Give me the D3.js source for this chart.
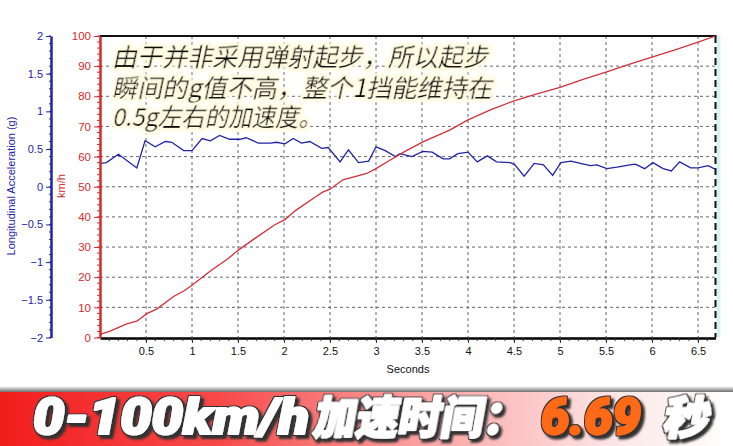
<!DOCTYPE html>
<html><head><meta charset="utf-8">
<script src="https://cdn.jsdelivr.net/npm/d3@7/dist/d3.min.js"></script>
<style>
html,body{margin:0;padding:0;background:#fff;}
svg{display:block;}
</style></head>
<body>
<svg id="c" width="733" height="446"></svg>
<script>
// ---- data ----
const speedTime = [0,0.11,0.29,0.4,0.51,0.62,0.8,0.91,1.0,1.21,1.39,1.5,1.68,1.9,2.01,2.12,2.34,2.42,2.5,2.64,2.9,3.0,3.15,3.33,3.51,3.8,4.0,4.25,4.5,4.75,5.0,5.25,5.5,5.75,6.0,6.25,6.5,6.69];
const speedKmh  = [1.0,2.1,4.5,5.4,7.9,9.5,13.6,15.4,17.3,22.3,26.1,28.9,32.8,37.4,39.1,42,46.6,48.2,49.2,52.3,54.4,56,58.8,62,64.9,68.8,72.2,75.6,78.5,80.8,83,85.6,88,90.6,93,95.4,98,100];
const accTime = [0,0.07,0.2,0.4,0.49,0.6,0.71,0.78,0.91,1.0,1.11,1.2,1.3,1.41,1.52,1.59,1.72,1.85,1.92,2.01,2.1,2.19,2.28,2.41,2.48,2.61,2.7,2.81,2.92,3.0,3.1,3.21,3.26,3.39,3.51,3.61,3.73,3.8,3.89,4.0,4.1,4.21,4.31,4.46,4.51,4.61,4.72,4.82,4.92,5.01,5.12,5.22,5.33,5.4,5.51,5.62,5.76,5.82,5.92,6.01,6.12,6.21,6.3,6.42,6.5,6.61,6.69];
const accG    = [0.31,0.32,0.43,0.25,0.61,0.53,0.60,0.59,0.48,0.48,0.64,0.61,0.68,0.63,0.63,0.65,0.58,0.58,0.59,0.57,0.64,0.58,0.60,0.51,0.52,0.33,0.49,0.32,0.34,0.53,0.48,0.40,0.44,0.40,0.47,0.46,0.37,0.37,0.44,0.46,0.33,0.41,0.33,0.32,0.29,0.14,0.31,0.29,0.15,0.32,0.34,0.31,0.28,0.29,0.24,0.26,0.29,0.30,0.24,0.32,0.24,0.21,0.33,0.25,0.25,0.28,0.23];
const secTicks = [0.5,1,1.5,2,2.5,3,3.5,4,4.5,5,5.5,6,6.5];
const kmhTicks = [0,10,20,30,40,50,60,70,80,90,100];
const accTicks = [-2,-1.5,-1,-0.5,0,0.5,1,1.5,2];
const noteLines = ["由于并非采用弹射起步，所以起步","瞬间的g值不高，整个1挡能维持在","0.5g左右的加速度。"];
const bannerParts = ["0-100km/h","加速时间：","6.69","秒"];

// ---- layout ----
const svg = d3.select("#c");
const L = 100, R = 715.5, T = 36, B = 337.5;
const x = d3.scaleLinear().domain([0, 6.69]).range([L, R]);
const yS = d3.scaleLinear().domain([0, 100]).range([B, T]);
const yA = d3.scaleLinear().domain([-2, 2]).range([B, T]);
const RED = "#d42a2a", BLUE = "#2323a8";
const fmt = d3.format("~g");
const AX = "Liberation Sans, Arial, sans-serif";

const defs = svg.append("defs");
const g1 = defs.append("linearGradient").attr("id","bg").attr("x1","0").attr("x2","1").attr("y1","0").attr("y2","0");
g1.append("stop").attr("offset","0").attr("stop-color","#f21d1d");
g1.append("stop").attr("offset","0.3").attr("stop-color","#f74a4a");
g1.append("stop").attr("offset","0.6").attr("stop-color","#fba9a9");
g1.append("stop").attr("offset","0.85").attr("stop-color","#fde8e8");
g1.append("stop").attr("offset","1").attr("stop-color","#ffffff");
const g2 = defs.append("linearGradient").attr("id","sh").attr("x1","0").attr("x2","0").attr("y1","0").attr("y2","1");
g2.append("stop").attr("offset","0").attr("stop-color","#ffffff");
g2.append("stop").attr("offset","1").attr("stop-color","#555");

// glow for annotation
const f1 = defs.append("filter").attr("id","glow").attr("x","-10%").attr("y","-40%").attr("width","120%").attr("height","180%");
f1.append("feMorphology").attr("in","SourceAlpha").attr("operator","dilate").attr("radius",3).attr("result","d");
f1.append("feFlood").attr("flood-color","#fffbe0").attr("result","fl");
f1.append("feComposite").attr("in","fl").attr("in2","d").attr("operator","in").attr("result","c");
f1.append("feGaussianBlur").attr("in","c").attr("stdDeviation",1.5).attr("result","b");
const m1 = f1.append("feMerge");
m1.append("feMergeNode").attr("in","b");
m1.append("feMergeNode").attr("in","SourceGraphic");

// outline + shadow for banner
const f2 = defs.append("filter").attr("id","ds").attr("x","-10%").attr("y","-30%").attr("width","120%").attr("height","160%");
f2.append("feMorphology").attr("in","SourceAlpha").attr("operator","dilate").attr("radius",1.2).attr("result","d");
f2.append("feFlood").attr("flood-color","#333").attr("result","fl");
f2.append("feComposite").attr("in","fl").attr("in2","d").attr("operator","in").attr("result","o");
f2.append("feOffset").attr("in","o").attr("dx",2.5).attr("dy",2.5).attr("result","s");
f2.append("feGaussianBlur").attr("in","s").attr("stdDeviation",0.8).attr("result","sb");
const m2 = f2.append("feMerge");
m2.append("feMergeNode").attr("in","sb");
m2.append("feMergeNode").attr("in","o");
m2.append("feMergeNode").attr("in","SourceGraphic");

// grid
svg.append("g").selectAll("line").data(kmhTicks.filter(d=>d>0&&d<100)).join("line")
  .attr("x1",L).attr("x2",R).attr("y1",d=>yS(d)).attr("y2",d=>yS(d))
  .attr("stroke","#666").attr("stroke-width",1).attr("stroke-dasharray","3,3");
svg.append("g").selectAll("line").data(secTicks).join("line")
  .attr("x1",d=>x(d)).attr("x2",d=>x(d)).attr("y1",T).attr("y2",B)
  .attr("stroke","#666").attr("stroke-width",1).attr("stroke-dasharray","3,3");

// right edge
svg.append("rect").attr("x",R+1).attr("y",T).attr("width",4).attr("height",B-T).attr("fill","#d6f3f3");
svg.append("line").attr("x1",R).attr("x2",R).attr("y1",T).attr("y2",B)
  .attr("stroke","#111").attr("stroke-width",2).attr("stroke-dasharray","7,4");
// top border
svg.append("line").attr("x1",L).attr("x2",R+1).attr("y1",T).attr("y2",T).attr("stroke","#111").attr("stroke-width",2);

// lines
svg.append("path").datum(accTime.map((t,i)=>[t,accG[i]]))
  .attr("d", d3.line().x(d=>x(d[0])).y(d=>yA(d[1])))
  .attr("fill","none").attr("stroke",BLUE).attr("stroke-width",1.3);
svg.append("path").datum(speedTime.map((t,i)=>[t,speedKmh[i]]))
  .attr("d", d3.line().x(d=>x(d[0])).y(d=>yS(d[1])))
  .attr("fill","none").attr("stroke","#d0303c").attr("stroke-width",1.3);

// x axis
const xa = svg.append("g").attr("transform",`translate(0,${B+0.5})`)
  .call(d3.axisBottom(x).tickValues(secTicks).tickFormat(fmt).tickSize(5).tickPadding(4).tickSizeOuter(0));
xa.select(".domain").attr("stroke","#000").attr("stroke-width",2.5);
xa.selectAll("text").attr("font-family",AX).attr("font-size",11).attr("fill","#111");
xa.selectAll(".tick line").attr("stroke","#333");
xa.append("g").selectAll("line").data(d3.range(1,67).map(i=>i/10)).join("line")
  .attr("x1",d=>x(d)).attr("x2",d=>x(d)).attr("y1",0).attr("y2",3).attr("stroke","#333");
svg.append("text").attr("x",408).attr("y",373).attr("text-anchor","middle")
  .attr("font-family",AX).attr("font-size",11).attr("fill","#111").text("Seconds");

// km/h axis
const sa = svg.append("g").attr("transform",`translate(${L},0)`)
  .call(d3.axisLeft(yS).tickValues(kmhTicks).tickFormat(fmt).tickSize(6).tickPadding(3).tickSizeOuter(0));
sa.select(".domain").attr("stroke",RED).attr("stroke-width",2.5);
sa.selectAll(".tick line").attr("stroke",RED);
sa.selectAll("text").attr("font-family",AX).attr("font-size",11.5).attr("fill",RED);
sa.append("g").selectAll("line").data(d3.range(0,101,2)).join("line")
  .attr("x1",-3).attr("x2",0).attr("y1",d=>yS(d)).attr("y2",d=>yS(d)).attr("stroke",RED);
svg.append("text").attr("transform",`translate(65,186) rotate(-90)`).attr("text-anchor","middle")
  .attr("font-family",AX).attr("font-size",11).attr("fill",RED).text("km/h");

// accel axis
const aa = svg.append("g").attr("transform",`translate(51,0)`)
  .call(d3.axisLeft(yA).tickValues(accTicks).tickFormat(fmt).tickSize(5).tickPadding(3).tickSizeOuter(0));
aa.select(".domain").attr("stroke",BLUE).attr("stroke-width",2.5);
aa.selectAll(".tick line").attr("stroke",BLUE);
aa.selectAll("text").attr("font-family",AX).attr("font-size",11).attr("fill",BLUE);
aa.append("g").selectAll("line").data(d3.range(-20,21).map(i=>i/10)).join("line")
  .attr("x1",-2).attr("x2",0).attr("y1",d=>yA(d)).attr("y2",d=>yA(d)).attr("stroke",BLUE);
svg.append("text").attr("transform",`translate(15,186) rotate(-90)`).attr("text-anchor","middle")
  .attr("font-family",AX).attr("font-size",11).attr("fill",BLUE).text("Longitudinal Acceleration (g)");

// annotation (slanted, with cream glow)
const noteX = 112, noteY = [66, 97, 126], noteW = [376, 380, 210];
noteLines.forEach((s,i)=>{
  svg.append("text").attr("transform",`translate(${noteX},${noteY[i]}) skewX(-12)`)
    .attr("x",0).attr("y",0).attr("textLength",noteW[i]).attr("lengthAdjust","spacingAndGlyphs")
    .attr("font-family","Noto Sans CJK SC, sans-serif").attr("font-size",25)
    .attr("fill","#111").attr("filter","url(#glow)").text(s);
});

// banner
svg.append("rect").attr("x",0).attr("y",386).attr("width",733).attr("height",7).attr("fill","url(#sh)");
svg.append("rect").attr("x",0).attr("y",392).attr("width",733).attr("height",54).attr("fill","url(#bg)");
const bx = [33, 312, 541, 662], bw = [276, 212, 100, 46];
const bfam = ["Roboto, Liberation Sans, sans-serif","Noto Sans CJK SC, sans-serif","Roboto, Liberation Sans, sans-serif","Noto Sans CJK SC, sans-serif"];
const bfill = ["#ffffff","#ffffff","#ff6a14","#ffffff"];
bannerParts.forEach((s,i)=>{
  const cjk = i%2===1;
  svg.append("text").attr("transform",`translate(${bx[i]},434) skewX(${cjk?-10:0}) scale(1,1.08)`)
    .attr("x",0).attr("y",0).attr("textLength",bw[i]).attr("lengthAdjust","spacingAndGlyphs")
    .attr("font-family",bfam[i]).attr("font-size",cjk?41:46).attr("font-weight",900).attr("font-style",cjk?"normal":"italic")
    .attr("fill",bfill[i]).attr("stroke",bfill[i]).attr("stroke-width",2).attr("stroke-linejoin","round")
    .attr("filter","url(#ds)").text(s);
});
</script>
</body></html>
